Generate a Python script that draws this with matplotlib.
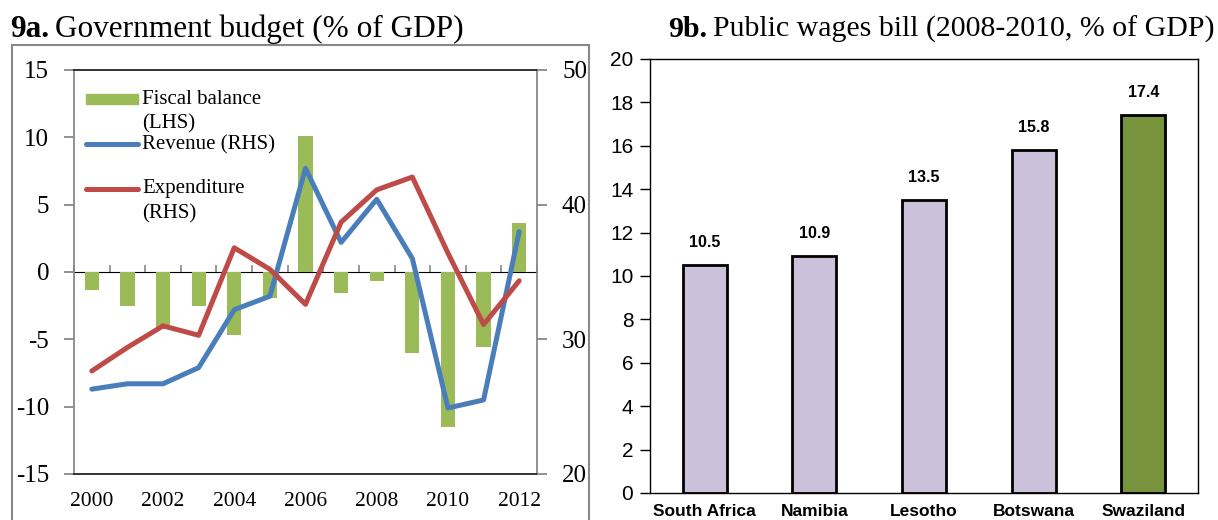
import matplotlib
matplotlib.use("Agg")
import matplotlib.pyplot as plt
import numpy as np
from matplotlib.patches import Rectangle
from matplotlib.lines import Line2D

plt.rcParams['axes.unicode_minus'] = False

# ---------------- data ----------------
years = [2000, 2001, 2002, 2003, 2004, 2005, 2006, 2007, 2008, 2009, 2010, 2011, 2012]
fiscal_balance = [-1.3, -2.55, -4.2, -2.5, -4.7, -1.9, 10.1, -1.55, -0.65, -6.0, -11.5, -5.6, 3.65]
revenue = [26.3, 26.7, 26.7, 27.9, 32.2, 33.2, 42.7, 37.2, 40.4, 36.0, 24.9, 25.5, 38.0]
expenditure = [27.65, 29.4, 31.0, 30.3, 36.8, 35.2, 32.6, 38.7, 41.1, 42.05, 36.4, 31.1, 34.35]

countries = ["South Africa", "Namibia", "Lesotho", "Botswana", "Swaziland"]
wages_bill = [10.5, 10.9, 13.5, 15.8, 17.4]

W, H = 1218, 520
fig = plt.figure(figsize=(W / 100, H / 100), dpi=100)

def fx(px):
    return px / W

def fy(py):
    return 1 - py / H

SERIF = "Liberation Serif"
SANS = "Liberation Sans"
GREY = "#888888"
LW = 3.6

# panel frame (left)
fig.patches.append(Rectangle((fx(12), fy(560)), fx(589) - fx(12), fy(45) - fy(560),
                             transform=fig.transFigure, fill=False,
                             edgecolor=GREY, linewidth=1.5, zorder=0))

# ---------------- left panel ----------------
ax = fig.add_axes([fx(74), fy(474), fx(537) - fx(74), fy(70) - fy(474)])
x = np.arange(len(years))
ax.bar(x, fiscal_balance, width=0.4, color="#9BBB59", zorder=2)
ax.set_xlim(-0.5, len(years) - 0.5)
ax.set_ylim(-15, 15)
ax.set_yticks(np.arange(-15, 16, 5))
ax.set_yticklabels([str(v) for v in range(-15, 16, 5)], family=SERIF, fontsize=18)
ax.set_xticks(x[::2])
ax.set_xticklabels([str(y) for y in years[::2]], family=SERIF, fontsize=15.5)
ax.tick_params(axis='x', length=0, pad=13)
ax.tick_params(axis='y', direction='out', length=7, color=GREY, width=1.3, pad=11)
for s in ['left', 'right']:
    ax.spines[s].set_color(GREY)
    ax.spines[s].set_linewidth(1.3)
for s in ['top', 'bottom']:
    ax.spines[s].set_color("#222222")
    ax.spines[s].set_linewidth(1.3)

# zero axis with category-boundary ticks
sec = ax.secondary_xaxis(0.5)
sec.set_xticks(np.arange(-0.5, len(years), 1.0))
sec.set_xticklabels([])
sec.tick_params(axis='x', direction='out', length=5, color=GREY, width=1.2)
sec.spines['bottom'].set_color(GREY)
sec.spines['bottom'].set_linewidth(1.3)

ax2 = ax.twinx()
ax2.plot(x, revenue, color="#4A7EBB", linewidth=LW, solid_capstyle='round',
         solid_joinstyle='round', zorder=3)
ax2.plot(x, expenditure, color="#BE4B48", linewidth=LW, solid_capstyle='round',
         solid_joinstyle='round', zorder=3)
ax2.set_ylim(20, 50)
ax2.set_yticks([20, 30, 40, 50])
ax2.set_yticklabels(["20", "30", "40", "50"], family=SERIF, fontsize=18)
ax2.tick_params(axis='y', direction='out', length=7, color=GREY, width=1.3, pad=11)
for s in ax2.spines.values():
    s.set_visible(False)

# manual legend (figure pixel coords)
fig.patches.append(Rectangle((fx(86), fy(104)), fx(138) - fx(86), fy(94) - fy(104),
                             transform=fig.transFigure, color="#9BBB59", zorder=5))
fig.lines.append(Line2D([fx(86), fx(138)], [fy(144), fy(144)], transform=fig.transFigure,
                        color="#4A7EBB", linewidth=LW, solid_capstyle='round'))
fig.lines.append(Line2D([fx(86), fx(138)], [fy(189), fy(189)], transform=fig.transFigure,
                        color="#BE4B48", linewidth=LW, solid_capstyle='round'))
for txt, ypix in [("Fiscal balance", 99), ("(LHS)", 124), ("Revenue (RHS)", 145),
                  ("Expenditure", 189), ("(RHS)", 214)]:
    fig.text(fx(142), fy(ypix), txt, family=SERIF, fontsize=15, va='center', ha='left')

# ---------------- right panel ----------------
bx = fig.add_axes([fx(650), fy(493), fx(1198) - fx(650), fy(59) - fy(493)])
xc = np.arange(len(countries))
colors = ["#CCC1DA"] * (len(countries) - 1) + ["#77933C"]
bx.bar(xc, wages_bill, width=0.4, color=colors, edgecolor="black", linewidth=2, zorder=2)
bx.set_xlim(-0.5, len(countries) - 0.5)
bx.set_ylim(0, 20)
bx.set_yticks(np.arange(0, 21, 2))
bx.set_yticklabels([str(v) for v in range(0, 21, 2)], family=SANS, fontsize=15)
bx.set_xticks(xc)
bx.set_xticklabels(countries, family=SANS, fontsize=12.5, fontweight='bold')
bx.tick_params(axis='x', length=0, pad=8)
bx.tick_params(axis='y', direction='out', length=7, width=1, pad=5)
for s in bx.spines.values():
    s.set_linewidth(1)
for xi, v in zip(xc, wages_bill):
    bx.annotate(f"{v:.1f}", (xi, v), xytext=(0, 11), textcoords='offset points',
                ha='center', va='bottom', family=SANS, fontsize=11.5, fontweight='bold')

# ---------------- titles ----------------
renderer = fig.canvas.get_renderer()

def title(xpix, ypix, bold, rest, size):
    t1 = fig.text(fx(xpix), fy(ypix), bold, family=SERIF, fontsize=size, fontweight='bold',
                  va='baseline', ha='left')
    bb = t1.get_window_extent(renderer)
    fig.text(bb.x1 / W + fx(6), fy(ypix), rest, family=SERIF, fontsize=size,
             va='baseline', ha='left')

title(10, 37, "9a.", "Government budget (% of GDP)", 22.5)
title(668, 37, "9b.", "Public wages bill (2008-2010, % of GDP)", 21.5)

fig.savefig("out.png", dpi=100)
